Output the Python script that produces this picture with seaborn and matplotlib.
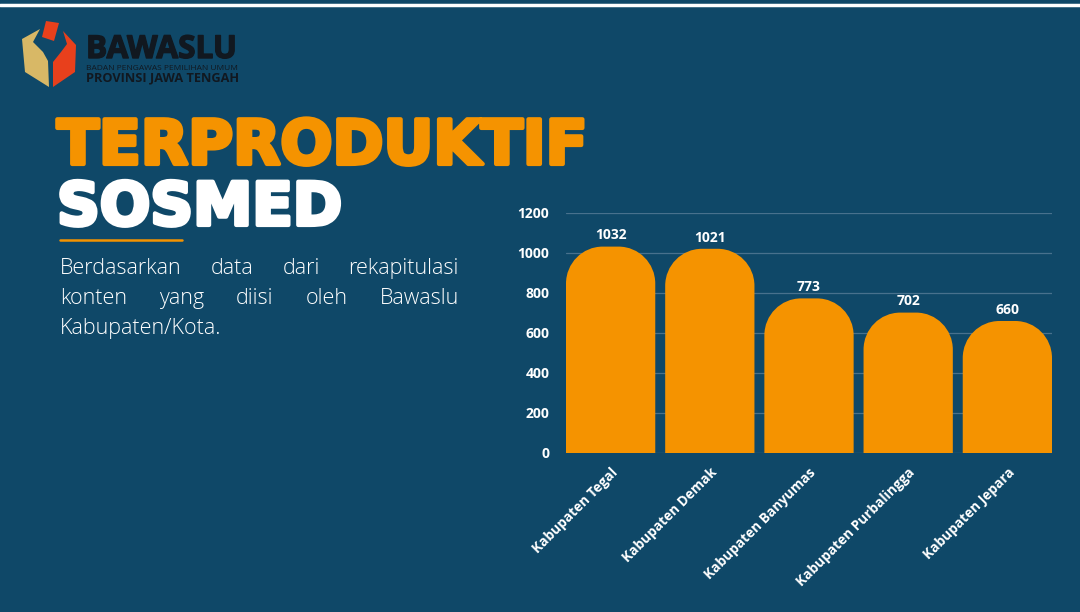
import numpy as np
import matplotlib
matplotlib.use("Agg")
import matplotlib.pyplot as plt
import matplotlib.patheffects as pe
from matplotlib.path import Path
from matplotlib.patches import PathPatch, Polygon
import seaborn as sns

# data
districts = ["Kabupaten Tegal", "Kabupaten Demak", "Kabupaten Banyumas",
             "Kabupaten Purbalingga", "Kabupaten Jepara"]
counts = [1032, 1021, 773, 702, 660]
y_ticks = [0, 200, 400, 600, 800, 1000, 1200]

title_1 = "TERPRODUKTIF"
title_2 = "SOSMED"
para_lines = [["Berdasarkan", "data", "dari", "rekapitulasi"],
              ["konten", "yang", "diisi", "oleh", "Bawaslu"],
              ["Kabupaten/Kota."]]

BG = "#0f4868"
ORANGE = "#f59300"
GRID = "#48718d"
W, H = 1080, 612

sns.set_theme(style="white")
plt.rcParams["font.family"] = ["Open Sans", "DejaVu Sans"]

fig = plt.figure(figsize=(W / 100, H / 100), dpi=100, facecolor=BG)


def P(x, y):
    # pixel coords (top-left origin) -> figure fraction
    return x / W, 1 - y / H


# top white rule
fig.add_artist(plt.Line2D([0, 1], [1 - 4.5 / H, 1 - 4.5 / H], color="white", lw=2.5,
                          transform=fig.transFigure))

# ---- chart ----
ax = fig.add_axes([566 / W, (H - 453) / H, (1052 - 566) / W, 240 / H])
ax.set_facecolor(BG)
sns.barplot(x=districts, y=counts, color=ORANGE, saturation=1, width=0.9, ax=ax, zorder=3)
ax.set_xlim(-0.45, 4.45)
ax.set_ylim(0, 1200)
ax.set_yticks(y_ticks)
ax.grid(axis="y", color=GRID, lw=0.9, zorder=0)
ax.grid(axis="x", visible=False)
for s in ax.spines.values():
    s.set_visible(False)
ax.set_xlabel("")
ax.set_ylabel("")
ax.tick_params(axis="y", length=0, pad=12, labelcolor="white", labelsize=10)
ax.tick_params(axis="x", length=0, pad=9, labelcolor="white", labelsize=9.8)
for lab in ax.get_yticklabels():
    lab.set_fontweight("bold")
for lab in ax.get_xticklabels():
    lab.set_rotation(45)
    lab.set_ha("right")
    lab.set_rotation_mode("anchor")
    lab.set_fontweight("bold")

# round the top corners of the bars
rx, ry = 0.37, 185
k = 0.5523
for p in ax.patches:
    x0, w, h = p.get_x(), p.get_width(), p.get_height()
    verts = [(x0, 0), (x0, h - ry), (x0, h - ry + k * ry), (x0 + rx - k * rx, h), (x0 + rx, h),
             (x0 + w - rx, h), (x0 + w - rx + k * rx, h), (x0 + w, h - ry + k * ry), (x0 + w, h - ry),
             (x0 + w, 0), (x0, 0)]
    codes = [Path.MOVETO, Path.LINETO, Path.CURVE4, Path.CURVE4, Path.CURVE4, Path.LINETO,
             Path.CURVE4, Path.CURVE4, Path.CURVE4, Path.LINETO, Path.CLOSEPOLY]
    ax.add_patch(PathPatch(Path(verts, codes), facecolor=ORANGE, edgecolor="none", zorder=3))
    p.set_visible(False)

ax.bar_label(ax.containers[0], labels=[str(v) for v in counts], padding=3,
             color="white", fontsize=10, fontweight="bold")

# ---- left text ----
renderer = fig.canvas.get_renderer()


def fit_text(s, x, y, x_right, size, **kw):
    t = fig.text(*P(x, y), s, fontsize=size, va="baseline", ha="left", **kw)
    bb = t.get_window_extent(renderer)
    t.set_fontsize(size * (x_right - x) / bb.width)
    return t


t1 = fit_text(title_1, 57, 164, 587, 40, color=ORANGE, fontweight="bold", family="DejaVu Sans")
t1.set_path_effects([pe.withStroke(linewidth=3, foreground=ORANGE)])
t2 = fit_text(title_2, 57, 225, 342, 40, color="white", fontweight="bold", family="DejaVu Sans")
t2.set_path_effects([pe.withStroke(linewidth=3, foreground="white")])

fig.add_artist(plt.Line2D([60 / W, 182 / W], [1 - 240 / H, 1 - 240 / H], color=ORANGE, lw=1.8,
                          transform=fig.transFigure))

para_size = 15.5
baselines = [274, 304, 334]
x_left, x_right = 60, 459
for words, yb in zip(para_lines, baselines):
    texts = [fig.text(*P(x_left, yb), wd, fontsize=para_size, color="white", fontweight="light",
                      va="baseline", ha="left") for wd in words]
    if len(words) > 1:
        widths = [t.get_window_extent(renderer).width for t in texts]
        gap = (x_right - x_left - sum(widths)) / (len(words) - 1)
        xx = x_left
        for t, wd in zip(texts, widths):
            t.set_position(P(xx, yb))
            xx += wd + gap

# ---- logo ----
def poly(pts, c):
    fig.add_artist(Polygon([P(x, y) for x, y in pts], closed=True, facecolor=c, edgecolor="none",
                           transform=fig.transFigure))


poly([(22, 39), (40, 29), (33, 42), (43, 52), (48, 61), (49, 87), (25, 72)], "#d8b866")
poly([(63, 31), (76, 45), (75, 72), (53, 87), (53, 62), (61, 52), (67, 44)], "#e8401c")
poly([(46, 21), (59, 23), (54, 41), (42, 37)], "#e8401c")

DARK = "#111820"
b = fit_text("BAWASLU", 86, 58, 237, 18, color=DARK, fontweight="bold")
b.set_path_effects([pe.withStroke(linewidth=1.0, foreground=DARK)])
fit_text("BADAN PENGAWAS PEMILIHAN UMUM", 86, 70, 238, 4.5, color=DARK)
fit_text("PROVINSI JAWA TENGAH", 86, 81, 238, 7.5, color=DARK, fontweight="bold")

fig.savefig("out.png", dpi=100, facecolor=BG)
